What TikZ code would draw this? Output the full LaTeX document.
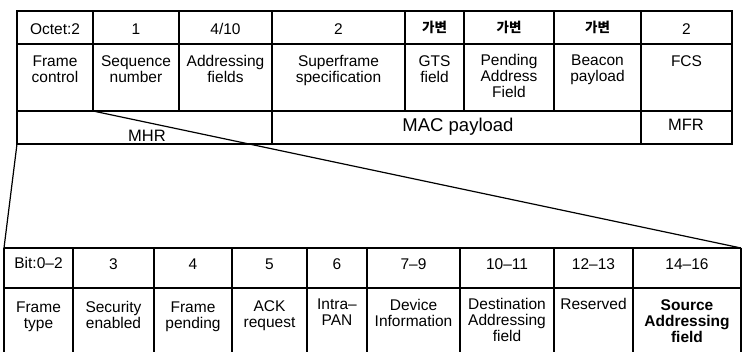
\documentclass[tikz,border=0pt]{standalone}
\usepackage{fontspec}
\setmainfont{Liberation Sans}
\newfontfamily\krfont{Noto Sans CJK KR}
\begin{document}
\begin{tikzpicture}[x=1pt,y=-1pt,
  rule/.style={line width=1.5pt},
  thin/.style={line width=1.2pt},
  lbl/.style={font=\fontsize{15.5}{16}\selectfont, inner sep=0pt, anchor=base, align=center},
  big/.style={font=\fontsize{16.5}{18}\selectfont, inner sep=0pt, anchor=base},
  kor/.style={font=\krfont\bfseries\fontsize{13.5}{14}\selectfont, inner sep=0pt, anchor=base}]
\useasboundingbox (0,0) rectangle (742,351);

% ---- MAC frame (upper table) ----
\coordinate (ftl) at (17,11);
\coordinate (fbr) at (732,144);
\coordinate (mhrsplit) at (93,111);
\coordinate (fbl) at (17,144);
\draw[rule] (ftl) rectangle (fbr);
\draw[thin] (17,44) -- (732,44);
\draw[thin] (17,111) -- (732,111);
\foreach \x in {93,179,405,464,554} \draw[thin] (\x,11) -- (\x,111);
\foreach \x in {272,641} \draw[thin] (\x,11) -- (\x,144);

% octet counts
\node[lbl] (o1) at (55,34) {Octet:2};
\node[lbl] (o2) at (136,34) {1};
\node[lbl] (o3) at (225.5,34) {4/10};
\node[lbl] (o4) at (338.5,34) {2};
\node[kor] (o5) at (434.5,32.5) {가변};
\node[kor] (o6) at (509,32.5) {가변};
\node[kor] (o7) at (597.5,32.5) {가변};
\node[lbl] (o8) at (686.5,34) {2};

% field names (y is the baseline of the last line)
\node[lbl] (f1) at (55,82) {Frame\\control};
\node[lbl] (f2) at (136,82) {Sequence\\number};
\node[lbl] (f3) at (225.5,82) {Addressing\\fields};
\node[lbl] (f4) at (338.5,82) {Superframe\\specification};
\node[lbl] (f5) at (434.5,82) {GTS\\field};
\node[lbl] (f6) at (509,97) {Pending\\Address\\Field};
\node[lbl] (f7) at (597.5,81) {Beacon\\payload};
\node[lbl] (f8) at (686.5,66) {FCS};

% frame parts
\node[big] (mhr) at (147,141) {MHR};
\node[big, font=\fontsize{18.5}{20}\selectfont] (macp) at (458,131) {MAC payload};
\node[big] (mfr) at (686,130) {MFR};

% ---- frame control field (lower table) ----
\coordinate (ctl) at (4,248);
\coordinate (ctr) at (741,248);
\draw[rule] (4,248) -- (741,248);
\draw[thin] (4,288) -- (741,288);
\foreach \x in {4,73,154,232,307,367,460,554,633,741} \draw[thin] (\x,248) -- (\x,352);

\node[lbl] (b1) at (38.5,268) {Bit:0--2};
\node[lbl] (b2) at (113.5,269) {3};
\node[lbl] (b3) at (193,269) {4};
\node[lbl] (b4) at (269.5,269) {5};
\node[lbl] (b5) at (337,269) {6};
\node[lbl] (b6) at (413.5,269) {7--9};
\node[lbl] (b7) at (507,269) {10--11};
\node[lbl] (b8) at (593.5,269) {12--13};
\node[lbl] (b9) at (687,269) {14--16};

\node[lbl] (c1) at (38.5,328) {Frame\\type};
\node[lbl] (c2) at (113.5,328) {Security\\enabled};
\node[lbl] (c3) at (193,328) {Frame\\pending};
\node[lbl] (c4) at (269.5,327) {ACK\\request};
\node[lbl] (c5) at (337,325) {Intra--\\PAN};
\node[lbl] (c6) at (413.5,326) {Device\\Information};
\node[lbl] (c7) at (507,341) {Destination\\Addressing\\field};
\node[lbl] (c8) at (593.5,309) {Reserved};
\node[lbl, font=\bfseries\fontsize{15.5}{16}\selectfont] (c9) at (687,342) {Source\\Addressing\\field};

% expansion lines from the frame control field
\draw[thin] (fbl) -- (ctl);
\draw[thin] (mhrsplit) -- (ctr);
\end{tikzpicture}
\end{document}
